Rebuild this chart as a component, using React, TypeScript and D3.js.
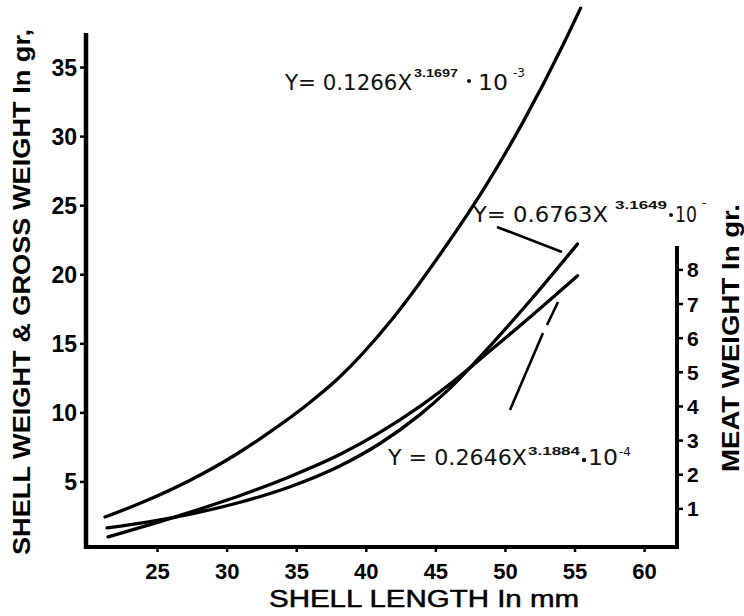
import React from "react";
import * as d3 from "d3";

// ---- data ----
const X_TICKS = [25, 30, 35, 40, 45, 50, 55, 60];
const LEFT_TICKS = [5, 10, 15, 20, 25, 30, 35];
const MEAT_TICKS = [1, 2, 3, 4, 5, 6, 7, 8];

// gross weight (left axis, g)
const grossLength = [21.22, 23.74, 27.34, 30.72, 33.31, 35.76, 37.99, 41.87, 45.32, 48.56, 51.29, 54.17, 55.4];
const grossWeight = [2.46, 3.45, 5.12, 7.04, 8.78, 10.61, 12.51, 16.8, 21.5, 26.4, 31.1, 36.7, 39.3];

// shell weight (left axis, g)
const shellLength = [21.37, 24.46, 27.7, 30.94, 34.53, 38.13, 41.01, 43.88, 45.83, 48.92, 51.8, 55.18];
const shellWeight = [1.67, 2.13, 2.75, 3.53, 4.65, 6.17, 7.8, 9.89, 11.61, 14.87, 18.15, 22.23];

// meat weight (right axis, g)
const meatLength = [21.44, 24.46, 27.7, 30.94, 34.53, 38.13, 41.01, 43.88, 45.83, 48.92, 51.8, 55.18];
const meatWeight = [0.18, 0.54, 0.95, 1.39, 1.95, 2.6, 3.25, 4.01, 4.6, 5.64, 6.63, 7.83];

const FONT = "'Liberation Sans', Arial, sans-serif";
const EQFONT = "'DejaVu Sans', 'Liberation Sans', sans-serif";

export default function App() {
  const W = 744;
  const H = 616;
  const x = d3.scaleLinear().domain([20, 62.4]).range([88, 678]);
  const yL = d3.scaleLinear().domain([0, 37.5]).range([551, 33]);
  const yM = d3.scaleLinear().domain([0, 8.7]).range([543, 246]);

  const axisY = 547;
  const leftX = 86;
  const rightX = x(62.4) - 1;

  const lineL = d3
    .line<[number, number]>()
    .x((d) => x(d[0]))
    .y((d) => yL(d[1]))
    .curve(d3.curveMonotoneX);
  const lineM = d3
    .line<[number, number]>()
    .x((d) => x(d[0]))
    .y((d) => yM(d[1]))
    .curve(d3.curveMonotoneX);

  const gross = grossLength.map((v, i) => [v, grossWeight[i]] as [number, number]);
  const shell = shellLength.map((v, i) => [v, shellWeight[i]] as [number, number]);
  const meat = meatLength.map((v, i) => [v, meatWeight[i]] as [number, number]);

  const eqStyle = { fontFamily: EQFONT, fontSize: 21, fill: "#111" };
  const supStyle = { fontFamily: FONT, fontSize: 11, fontWeight: 700, fill: "#111" };
  const expStyle = { fontFamily: EQFONT, fontSize: 12, fill: "#111" };

  return (
    <svg
      width={W}
      height={H}
      viewBox={`0 0 ${W} ${H}`}
      style={{ position: "absolute", left: 0, top: 0, background: "#fff" }}
    >
      <rect x={0} y={0} width={W} height={H} fill="#fff" />

      {/* axes */}
      <line x1={leftX} y1={33} x2={leftX} y2={axisY + 2} stroke="#000" strokeWidth={4.5} />
      <line x1={leftX - 2} y1={axisY} x2={rightX + 2} y2={axisY} stroke="#000" strokeWidth={4} />
      <line x1={rightX} y1={yM(8.7)} x2={rightX} y2={axisY + 2} stroke="#000" strokeWidth={4} />

      {/* left ticks */}
      {LEFT_TICKS.map((t) => (
        <g key={"l" + t}>
          <line x1={leftX - 6} x2={leftX} y1={yL(t)} y2={yL(t)} stroke="#000" strokeWidth={2.5} />
          <text
            x={leftX - 9}
            y={yL(t)}
            dy="0.36em"
            textAnchor="end"
            style={{ fontFamily: FONT, fontSize: 23, fontWeight: 700 }}
          >
            {t}
          </text>
        </g>
      ))}

      {/* bottom ticks */}
      {X_TICKS.map((t) => (
        <g key={"x" + t}>
          <line x1={x(t)} x2={x(t)} y1={axisY} y2={axisY + 5} stroke="#000" strokeWidth={2.5} />
          <text
            x={x(t)}
            y={579}
            textAnchor="middle"
            style={{ fontFamily: FONT, fontSize: 22, fontWeight: 700 }}
          >
            {t}
          </text>
        </g>
      ))}

      {/* right ticks */}
      {MEAT_TICKS.map((t) => (
        <g key={"m" + t}>
          <line x1={rightX} x2={rightX + 6} y1={yM(t)} y2={yM(t)} stroke="#000" strokeWidth={2.5} />
          <text
            x={rightX + 10}
            y={yM(t)}
            dy="0.36em"
            textAnchor="start"
            style={{ fontFamily: FONT, fontSize: 21, fontWeight: 700 }}
          >
            {t}
          </text>
        </g>
      ))}

      {/* axis titles */}
      <text
        transform="translate(30,292) rotate(-90)"
        textAnchor="middle"
        textLength={526}
        lengthAdjust="spacingAndGlyphs"
        style={{ fontFamily: FONT, fontSize: 24, fontWeight: 700 }}
      >
        SHELL WEIGHT &amp; GROSS WEIGHT In gr,
      </text>
      <text
        transform="translate(739,338) rotate(-90)"
        textAnchor="middle"
        textLength={268}
        lengthAdjust="spacingAndGlyphs"
        style={{ fontFamily: FONT, fontSize: 23, fontWeight: 700 }}
      >
        MEAT WEIGHT In gr.
      </text>
      <text
        x={424}
        y={607}
        textAnchor="middle"
        textLength={310}
        lengthAdjust="spacingAndGlyphs"
        stroke="#000"
        strokeWidth={0.5}
        style={{ fontFamily: FONT, fontSize: 23 }}
      >
        SHELL  LENGTH  In  mm
      </text>

      {/* curves */}
      <path d={lineL(gross) || ""} fill="none" stroke="#000" strokeWidth={3.3} strokeLinecap="round" />
      <path d={lineL(shell) || ""} fill="none" stroke="#000" strokeWidth={3.3} strokeLinecap="round" />
      <path d={lineM(meat) || ""} fill="none" stroke="#000" strokeWidth={3.3} strokeLinecap="round" />

      {/* equation 1 */}
      <text x={285} y={90} textLength={127} lengthAdjust="spacingAndGlyphs" style={eqStyle}>Y= 0.1266X</text>
      <text x={414} y={77} textLength={44} lengthAdjust="spacingAndGlyphs" style={supStyle}>3.1697</text>
      <circle cx={469} cy={81} r={2} fill="#111" />
      <text x={478} y={90} textLength={30} lengthAdjust="spacingAndGlyphs" style={eqStyle}>10</text>
      <text x={513} y={77} style={expStyle}>-3</text>

      {/* equation 2 */}
      <text x={473} y={222} textLength={135} lengthAdjust="spacingAndGlyphs" style={eqStyle}>Y= 0.6763X</text>
      <text x={615} y={209} textLength={52} lengthAdjust="spacingAndGlyphs" style={supStyle}>3.1649</text>
      <circle cx={671} cy={215} r={2} fill="#111" />
      <text x={675} y={222} textLength={22} lengthAdjust="spacingAndGlyphs" style={eqStyle}>10</text>
      <text x={702} y={207} style={expStyle}>-</text>
      <line x1={497} y1={227} x2={562} y2={252} stroke="#000" strokeWidth={2.6} />

      {/* equation 3 */}
      <text x={388} y={465} textLength={139} lengthAdjust="spacingAndGlyphs" style={eqStyle}>Y = 0.2646X</text>
      <text x={528} y={455} textLength={52} lengthAdjust="spacingAndGlyphs" style={supStyle}>3.1884</text>
      <circle cx={584} cy={460} r={2.2} fill="#111" />
      <text x={588} y={465} textLength={30} lengthAdjust="spacingAndGlyphs" style={eqStyle}>10</text>
      <text x={619} y={456} style={expStyle}>-4</text>
      <line x1={558} y1={302} x2={547} y2={325} stroke="#000" strokeWidth={2.6} />
      <line x1={543} y1={333} x2={510} y2={410} stroke="#000" strokeWidth={2.6} />
    </svg>
  );
}
